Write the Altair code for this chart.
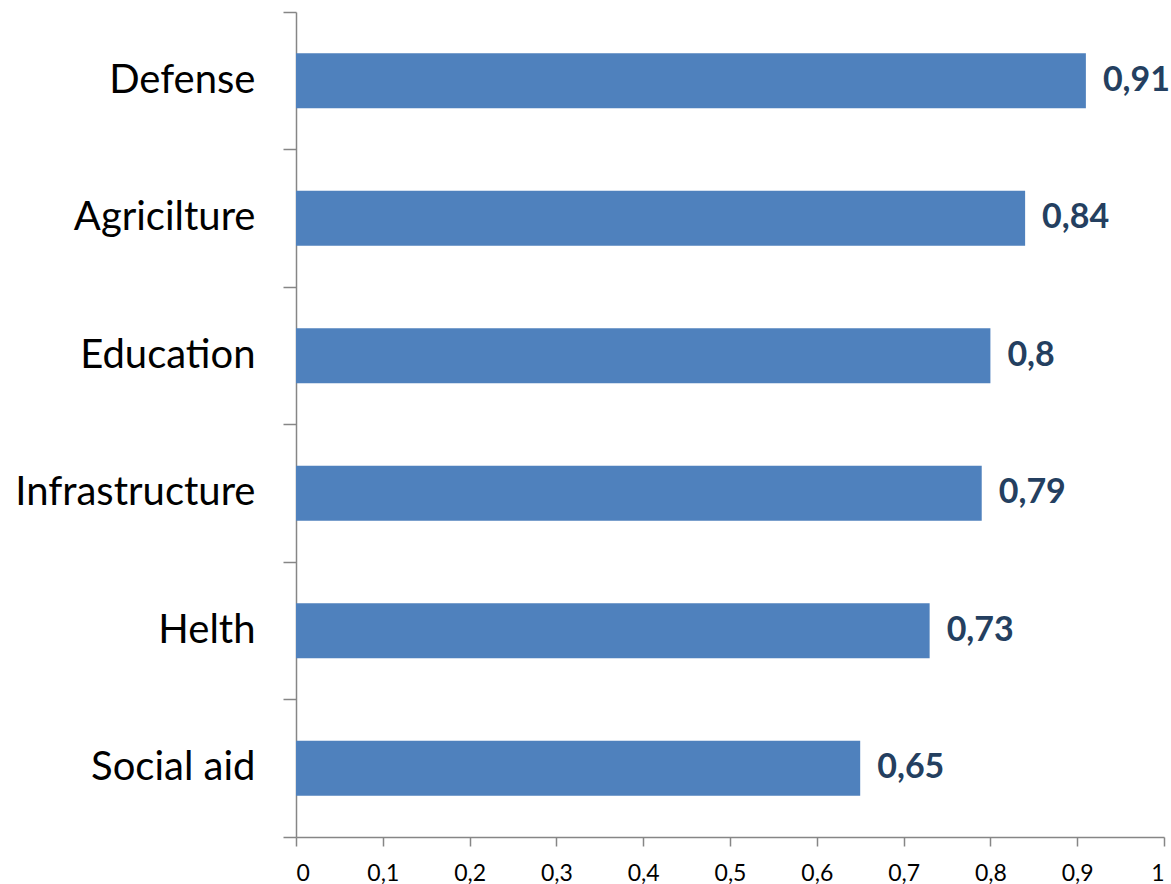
import altair as alt
import pandas as pd

categories = ["Defense", "Agricilture", "Education", "Infrastructure", "Helth", "Social aid"]
values = [0.91, 0.84, 0.80, 0.79, 0.73, 0.65]
value_labels = ["0,91", "0,84", "0,8", "0,79", "0,73", "0,65"]
x_ticks = [0, 0.1, 0.2, 0.3, 0.4, 0.5, 0.6, 0.7, 0.8, 0.9, 1]

df = pd.DataFrame({"cat": categories, "val": values, "lab": value_labels})

FONT = "Lato"
AXIS_COLOR = "#868686"

y_enc = alt.Y(
    "cat:N",
    sort=categories,
    scale=alt.Scale(paddingInner=0, paddingOuter=0),
    axis=alt.Axis(
        title=None,
        bandPosition=1,
        tickExtra=True,
        tickSize=13,
        tickColor=AXIS_COLOR,
        domainColor=AXIS_COLOR,
        domainWidth=1.5,
        tickWidth=1.5,
        labelFont=FONT,
        labelFontSize=40,
        labelColor="#000000",
        labelPadding=28,
        labelLimit=400,
    ),
)

x_enc = alt.X(
    "val:Q",
    scale=alt.Scale(domain=[0, 1], nice=False, zero=True),
    axis=alt.Axis(
        title=None,
        values=x_ticks,
        grid=False,
        tickSize=9,
        tickColor=AXIS_COLOR,
        domainColor=AXIS_COLOR,
        domainWidth=1.5,
        tickWidth=1.5,
        labelFont=FONT,
        labelFontSize=23,
        labelColor="#000000",
        labelPadding=16,
        labelExpr="replace(format(datum.value, '.1~f'), '.', ',')",
    ),
)

bars = alt.Chart(df).mark_bar(color="#4F81BD", height={"band": 0.4}).encode(
    y=y_enc, x=x_enc
)

texts = alt.Chart(df).mark_text(
    align="left",
    baseline="middle",
    dx=17,
    font=FONT,
    fontSize=34,
    fontWeight="bold",
    color="#243F60",
).encode(y=alt.Y("cat:N", sort=categories), x=alt.X("val:Q"), text="lab:N")

chart = (
    alt.layer(bars, texts)
    .properties(
        width=868,
        height=825,
        autosize=alt.AutoSizeParams(type="none"),
        padding={"left": 296, "top": 12, "right": 7, "bottom": 47},
        background="white",
    )
    .configure_view(stroke=None)
)

chart.save("out.html", embed_options={"renderer": "svg", "actions": False})
